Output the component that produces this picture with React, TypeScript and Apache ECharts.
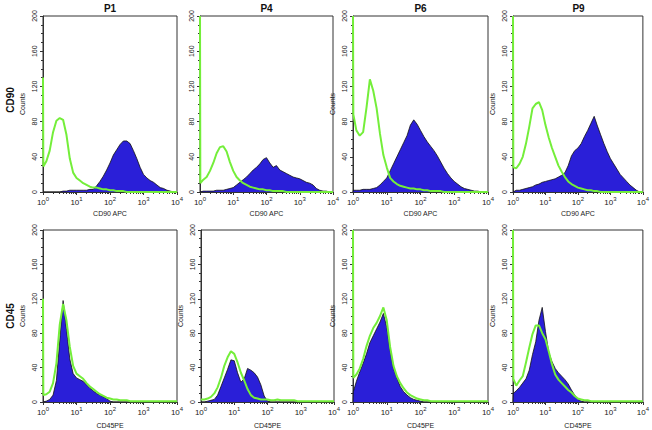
import React, { useEffect, useRef } from "react";
import * as echarts from "echarts";

// log10 of fluorescence intensity (shared x grid for every histogram)
const EXPONENTS = [
  0, 0.01,
  0.1, 0.2, 0.3, 0.4, 0.5, 0.6, 0.7, 0.8, 0.9,
  1.0, 1.1, 1.2, 1.3, 1.4, 1.5, 1.6, 1.7, 1.8, 1.9,
  2.0, 2.1, 2.2, 2.3, 2.4, 2.5, 2.6, 2.7, 2.8, 2.9,
  3.0, 3.1, 3.2, 3.3, 3.4, 3.5, 3.6, 3.7, 3.8, 3.9, 4.0,
];

const COLUMN_TITLES = ["P1", "P4", "P6", "P9"];
const ROW_TITLES = ["CD90", "CD45"];
const X_NAMES = ["CD90 APC", "CD45PE"];
const Y_TICKS = [0, 40, 80, 120, 160, 200];

// ---- CD90 row (isotype = green, stained = blue) ----
const CD90_P1_GREEN = [
  130, 29,
  35, 47, 68, 81, 84, 82, 65, 38, 22,
  16, 13, 10, 8, 6, 5, 5, 4, 3, 3,
  2, 2, 1, 1, 1, 0, 0, 0, 0, 0,
  0, 0, 0, 0, 0, 0, 0, 0, 0, 0, 0,
];
const CD90_P1_BLUE = [
  0, 0,
  0, 0, 0, 0, 0, 1, 1, 2, 2,
  2, 2, 2, 2, 3, 3, 7, 12, 18, 25,
  33, 42, 48, 54, 58, 58, 55, 47, 38, 28,
  20, 16, 13, 11, 8, 5, 4, 2, 1, 0, 0,
];
const CD90_P4_GREEN = [
  200, 10,
  14, 17, 24, 33, 44, 51, 52, 46, 34,
  24, 17, 13, 10, 8, 6, 5, 4, 3, 3,
  2, 2, 1, 1, 1, 1, 0, 0, 0, 0,
  0, 0, 0, 0, 0, 0, 0, 0, 0, 0, 0,
];
const CD90_P4_BLUE = [
  0, 0,
  1, 1, 1, 1, 2, 2, 2, 3, 4,
  5, 8, 11, 14, 17, 21, 25, 28, 32, 37,
  39, 33, 28, 30, 25, 23, 21, 19, 17, 16,
  15, 13, 11, 10, 8, 4, 2, 1, 1, 0, 0,
];
const CD90_P6_GREEN = [
  200, 88,
  70, 64, 68, 96, 128, 115, 95, 66, 42,
  28, 16, 12, 9, 7, 6, 5, 4, 4, 3,
  3, 2, 2, 1, 1, 1, 1, 0, 0, 0,
  0, 0, 0, 0, 0, 0, 0, 0, 0, 0, 0,
];
const CD90_P6_BLUE = [
  0, 2,
  2, 2, 3, 3, 3, 4, 5, 8, 12,
  16, 24, 32, 40, 48, 56, 64, 76, 82, 77,
  70, 63, 57, 52, 47, 41, 34, 27, 21, 16,
  12, 9, 6, 4, 3, 2, 1, 1, 0, 0, 0,
];
const CD90_P9_GREEN = [
  200, 28,
  27, 32, 40, 55, 74, 95, 100, 102, 93,
  76, 62, 50, 40, 30, 23, 17, 12, 9, 7,
  5, 4, 3, 2, 2, 1, 1, 0, 0, 0,
  0, 0, 0, 0, 0, 0, 0, 0, 0, 0, 0,
];
const CD90_P9_BLUE = [
  0, 0,
  2, 2, 3, 4, 5, 6, 8, 9, 11,
  12, 13, 14, 15, 17, 19, 22, 30, 41, 47,
  50, 55, 63, 70, 78, 86, 75, 65, 55, 46,
  38, 32, 26, 20, 16, 12, 8, 5, 2, 0, 0,
];

// ---- CD45 row ----
const CD45_P1_GREEN = [
  120, 8,
  9, 12, 22, 45, 90, 114, 95, 64, 42,
  33, 30, 27, 22, 18, 15, 12, 9, 7, 5,
  4, 3, 3, 2, 2, 2, 1, 1, 1, 1,
  1, 1, 1, 1, 1, 1, 1, 1, 1, 1, 1,
];
const CD45_P1_BLUE = [
  0, 0,
  1, 3, 8, 25, 72, 118, 85, 50, 33,
  28, 26, 24, 20, 16, 13, 10, 8, 6, 4,
  1, 0, 0, 0, 0, 0, 0, 0, 0, 0,
  0, 0, 0, 0, 0, 0, 0, 0, 0, 0, 0,
];
const CD45_P4_GREEN = [
  3, 3,
  3, 4, 6, 10, 17, 28, 42, 52, 59,
  56, 46, 34, 25, 15, 8, 5, 4, 3, 3,
  3, 2, 2, 3, 2, 2, 2, 2, 2, 1,
  1, 1, 1, 1, 1, 1, 1, 1, 1, 1, 1,
];
const CD45_P4_BLUE = [
  0, 0,
  0, 1, 2, 3, 8, 18, 28, 38, 49,
  48, 34, 23, 27, 39, 37, 34, 29, 20, 7,
  1, 0, 0, 0, 0, 0, 0, 0, 0, 0,
  0, 0, 0, 0, 0, 0, 0, 0, 0, 0, 0,
];
const CD45_P6_GREEN = [
  200, 28,
  32, 39, 50, 65, 77, 86, 92, 100, 110,
  95, 64, 42, 30, 22, 16, 11, 8, 6, 4,
  3, 2, 2, 1, 1, 1, 1, 1, 1, 1,
  1, 1, 1, 1, 1, 1, 1, 1, 1, 1, 1,
];
const CD45_P6_BLUE = [
  0, 12,
  24, 35, 45, 56, 69, 77, 85, 93, 103,
  87, 60, 39, 28, 18, 12, 8, 5, 3, 2,
  1, 0, 0, 0, 0, 0, 0, 0, 0, 0,
  0, 0, 0, 0, 0, 0, 0, 0, 0, 0, 0,
];
const CD45_P9_GREEN = [
  200, 27,
  19, 25, 30, 46, 63, 79, 89, 89, 80,
  73, 59, 44, 32, 26, 22, 18, 14, 11, 7,
  4, 3, 2, 2, 1, 1, 1, 1, 1, 1,
  1, 1, 1, 1, 1, 1, 1, 1, 1, 1, 1,
];
const CD45_P9_BLUE = [
  0, 10,
  13, 17, 22, 27, 37, 55, 70, 95, 110,
  82, 58, 47, 39, 34, 30, 26, 21, 14, 8,
  3, 1, 0, 0, 0, 0, 0, 0, 0, 0,
  0, 0, 0, 0, 0, 0, 0, 0, 0, 0, 0,
];

const BLUE = "#2a1fd8";
const GREEN = "#74ee3a";
const FONT = "Liberation Sans";

type Panel = {
  row: number;
  col: number;
  left: number;
  width: number;
  counts: boolean;
  green: number[];
  blue: number[];
};

const PANELS: Panel[] = [
  { row: 0, col: 0, left: 43, width: 134, counts: true, green: CD90_P1_GREEN, blue: CD90_P1_BLUE },
  { row: 0, col: 1, left: 200, width: 133, counts: false, green: CD90_P4_GREEN, blue: CD90_P4_BLUE },
  { row: 0, col: 2, left: 353, width: 135, counts: true, green: CD90_P6_GREEN, blue: CD90_P6_BLUE },
  { row: 0, col: 3, left: 513, width: 131, counts: true, green: CD90_P9_GREEN, blue: CD90_P9_BLUE },
  { row: 1, col: 0, left: 43, width: 134, counts: true, green: CD45_P1_GREEN, blue: CD45_P1_BLUE },
  { row: 1, col: 1, left: 201, width: 133, counts: true, green: CD45_P4_GREEN, blue: CD45_P4_BLUE },
  { row: 1, col: 2, left: 353, width: 135, counts: true, green: CD45_P6_GREEN, blue: CD45_P6_BLUE },
  { row: 1, col: 3, left: 513, width: 132, counts: true, green: CD45_P9_GREEN, blue: CD45_P9_BLUE },
];

const ROW_LAYOUT = [
  { top: 16, height: 176, labelY: 100 },
  { top: 230, height: 174, labelY: 316 },
];

function toPairs(values: number[]): [number, number][] {
  return values.map((v, i) => [Math.pow(10, EXPONENTS[i]), v]);
}

export default function App() {
  const ref = useRef<HTMLDivElement>(null);

  useEffect(() => {
    if (!ref.current) return;
    const chart = echarts.init(ref.current, undefined, { renderer: "svg" });

    const grids: any[] = [];
    const xAxes: any[] = [];
    const yAxes: any[] = [];
    const series: any[] = [];

    PANELS.forEach((p, i) => {
      const rl = ROW_LAYOUT[p.row];
      grids.push({
        left: p.left,
        top: rl.top,
        width: p.width,
        height: rl.height,
        show: true,
        borderColor: "#333",
        borderWidth: 1,
        backgroundColor: "#fff",
      });
      xAxes.push({
        type: "log",
        logBase: 10,
        min: 1,
        max: 10000,
        gridIndex: i,
        name: X_NAMES[p.row],
        nameLocation: "middle",
        nameGap: p.row === 0 ? 18 : 20,
        nameTextStyle: { fontSize: 7, color: "#222", fontFamily: FONT },
        axisLine: { lineStyle: { color: "#333", width: 1 } },
        axisTick: { length: 3, lineStyle: { color: "#333" } },
        minorTick: { show: true, splitNumber: 9, length: 2, lineStyle: { color: "#333" } },
        splitLine: { show: false },
        axisLabel: {
          margin: 4,
          color: "#222",
          fontFamily: FONT,
          formatter: (v: number) => `{b|10}{s|${Math.round(Math.log10(v))}}`,
          rich: {
            b: { fontSize: 8, fontFamily: FONT, color: "#222" },
            s: { fontSize: 6, fontFamily: FONT, color: "#222", padding: [0, 0, 6, 0] },
          },
        },
      });
      yAxes.push({
        type: "value",
        min: 0,
        max: 200,
        interval: 40,
        gridIndex: i,
        name: p.counts ? "Counts" : "",
        nameLocation: "middle",
        nameGap: 17,
        nameRotate: 90,
        nameTextStyle: { fontSize: 7, color: "#222", fontFamily: FONT },
        axisLine: { show: true, lineStyle: { color: "#333", width: 1 } },
        axisTick: { show: true, length: 3, lineStyle: { color: "#333" } },
        minorTick: { show: true, splitNumber: 4, length: 2, lineStyle: { color: "#333" } },
        splitLine: { show: false },
        axisLabel: {
          rotate: 90,
          fontSize: 7,
          margin: 5,
          color: "#222",
          fontFamily: FONT,
          customValues: Y_TICKS,
        },
      });
      series.push({
        type: "line",
        xAxisIndex: i,
        yAxisIndex: i,
        data: toPairs(p.blue),
        symbol: "none",
        lineStyle: { color: "#111", width: 0.8 },
        areaStyle: { color: BLUE, opacity: 1 },
        z: 2,
      });
      series.push({
        type: "line",
        xAxisIndex: i,
        yAxisIndex: i,
        data: toPairs(p.green),
        symbol: "none",
        lineStyle: { color: GREEN, width: 2 },
        z: 3,
      });
    });

    const titleCenters = PANELS.filter((p) => p.row === 0).map((p) => p.left + p.width / 2);
    const graphic: any[] = [];
    COLUMN_TITLES.forEach((t, c) => {
      graphic.push({
        type: "text",
        x: titleCenters[c],
        y: 8,
        style: {
          text: t,
          font: `bold 10px "${FONT}"`,
          fill: "#111",
          align: "center",
          verticalAlign: "middle",
        },
      });
    });
    ROW_TITLES.forEach((t, r) => {
      graphic.push({
        type: "text",
        x: 10,
        y: ROW_LAYOUT[r].labelY,
        rotation: Math.PI / 2,
        style: {
          text: t,
          font: `bold 10px "${FONT}"`,
          fill: "#111",
          align: "center",
          verticalAlign: "middle",
        },
      });
    });

    chart.setOption({
      animation: false,
      backgroundColor: "#fff",
      grid: grids,
      xAxis: xAxes,
      yAxis: yAxes,
      series,
      graphic,
    });

    return () => chart.dispose();
  }, []);

  return (
    <div
      ref={ref}
      style={{ position: "fixed", left: 0, top: 0, width: 652, height: 430 }}
    />
  );
}
